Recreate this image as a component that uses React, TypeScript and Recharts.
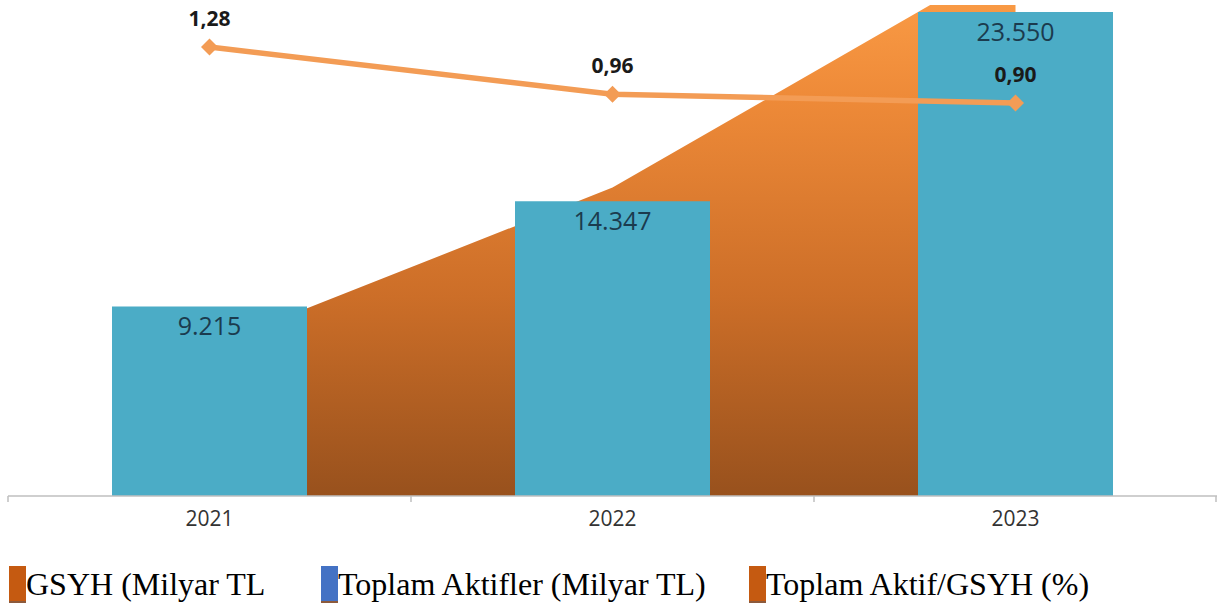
import React from "react";
import {
  ComposedChart,
  Area,
  Bar,
  Line,
  XAxis,
  YAxis,
  LabelList,
  Legend,
} from "recharts";

const years = ["2021", "2022", "2023"];
const gsyh = [7256, 15007, 26276];
const toplamAktifler = [9215, 14347, 23550];
const aktifGsyhOrani = [1.28, 0.96, 0.9];

const legendLabels = [
  "GSYH (Milyar TL",
  "Toplam Aktifler (Milyar TL)",
  "Toplam Aktif/GSYH (%)",
];
const legendColors = ["#C55A11", "#4472C4", "#C55A11"];
const legendLefts = [9, 321, 749];

const WIDTH = 1217;
const HEIGHT = 605;

const data = years.map((year, i) => ({
  year,
  gsyh: gsyh[i],
  aktif: toplamAktifler[i],
  oran: aktifGsyhOrani[i],
}));

const formatThousands = (v: number) =>
  String(v).replace(/\B(?=(\d{3})+(?!\d))/g, ".");
const formatRatio = (v: number) => v.toFixed(2).replace(".", ",");

const YearTick = (props: any) => {
  const { x, y, payload, index, width, visibleTicksCount } = props;
  const band =
    width && visibleTicksCount ? width / visibleTicksCount : (WIDTH - 8) / 3;
  const isLast = index === (visibleTicksCount || 3) - 1;
  return (
    <g>
      <line x1={x - band / 2} x2={x - band / 2} y1={y} y2={y + 6} stroke="#BFBFBF" strokeWidth={1.5} />
      {isLast && (
        <line x1={x + band / 2 - 1} x2={x + band / 2 - 1} y1={y} y2={y + 6} stroke="#BFBFBF" strokeWidth={1.5} />
      )}
      <text
        x={x}
        y={y + 24}
        textAnchor="middle"
        dominantBaseline="middle"
        fontFamily="'Open Sans', sans-serif"
        fontSize={21}
        fill="#333333">
        {payload.value}
      </text>
    </g>
  );
};

const BarValueLabel = (props: any) => {
  const { x, y, width, value } = props;
  return (
    <text
      x={x + width / 2}
      y={y + 22}
      textAnchor="middle"
      dominantBaseline="middle"
      fontFamily="'Open Sans', sans-serif"
      fontSize={25}
      fill="#1B3B4E">
      {formatThousands(value)}
    </text>
  );
};

const RatioLabel = (props: any) => {
  const { x, y, value } = props;
  return (
    <text
      x={x}
      y={y - 27}
      textAnchor="middle"
      dominantBaseline="middle"
      fontFamily="'Open Sans', sans-serif"
      fontWeight="bold"
      fontSize={21}
      fill="#1A1A1A">
      {formatRatio(value)}
    </text>
  );
};

const Diamond = (props: any) => {
  const { cx, cy } = props;
  const s = 8.5;
  return (
    <polygon
      points={`${cx},${cy - s} ${cx + s},${cy} ${cx},${cy + s} ${cx - s},${cy}`}
      fill="#F39C55"
    />
  );
};

const renderLegend = () => (
  <div style={{ position: "relative", width: WIDTH, height: 39 }}>
    {legendLabels.map((label, i) => (
      <div
        key={label}
        style={{
          position: "absolute",
          left: legendLefts[i],
          top: 0,
          display: "flex",
          alignItems: "flex-start",
        }}>
        <span
          style={{
            display: "inline-block",
            width: 17,
            height: 37,
            background: legendColors[i],
            borderBottom: "2px solid #8C5A3C",
            boxSizing: "border-box",
          }}
        />
        <span
          style={{
            fontFamily: "'Liberation Serif', 'Times New Roman', serif",
            fontSize: 32,
            lineHeight: "37px",
            color: "#000",
            whiteSpace: "nowrap",
          }}>
          {label}
        </span>
      </div>
    ))}
  </div>
);

export default function App() {
  return (
    <div
      style={{
        position: "absolute",
        top: 0,
        left: 0,
        width: WIDTH,
        height: HEIGHT,
        background: "#fff",
      }}>
      <ComposedChart
        width={WIDTH}
        height={HEIGHT}
        data={data}
        margin={{ top: 5, right: 0, left: 8, bottom: 79 }}>
        <defs>
          <linearGradient id="gsyhFill" gradientUnits="userSpaceOnUse" x1="0" y1="0" x2="0" y2="496">
            <stop offset="0" stopColor="#F99A45" />
            <stop offset="0.2" stopColor="#EE8A38" />
            <stop offset="0.6" stopColor="#CC6E28" />
            <stop offset="1" stopColor="#98511D" />
          </linearGradient>
        </defs>
        <XAxis
          dataKey="year"
          height={30}
          axisLine={{ stroke: "#BFBFBF", strokeWidth: 1.5 }}
          tickLine={false}
          tickSize={0}
          tickMargin={0}
          tick={<YearTick />}
          interval={0}
        />
        <YAxis yAxisId="left" hide domain={[0, 23890]} allowDataOverflow />
        <YAxis
          yAxisId="right"
          orientation="right"
          hide
          domain={[-1.766, 1.565]}
          allowDataOverflow
        />
        <Legend
          layout="horizontal"
          verticalAlign="middle"
          align="center"
          content={renderLegend}
          wrapperStyle={{ top: 566, left: 0, width: WIDTH }}
        />
        <Area
          yAxisId="left"
          type="linear"
          dataKey="gsyh"
          name="GSYH (Milyar TL"
          stroke="none"
          fill="url(#gsyhFill)"
          fillOpacity={1}
          isAnimationActive={false}
        />
        <Bar
          yAxisId="left"
          dataKey="aktif"
          name="Toplam Aktifler (Milyar TL)"
          fill="#4BACC6"
          barSize={195}
          isAnimationActive={false}>
          <LabelList dataKey="aktif" content={<BarValueLabel />} />
        </Bar>
        <Line
          yAxisId="right"
          type="linear"
          dataKey="oran"
          name="Toplam Aktif/GSYH (%)"
          stroke="#F39C55"
          strokeWidth={5.5}
          dot={<Diamond />}
          activeDot={false}
          isAnimationActive={false}>
          <LabelList dataKey="oran" content={<RatioLabel />} />
        </Line>
      </ComposedChart>
    </div>
  );
}
